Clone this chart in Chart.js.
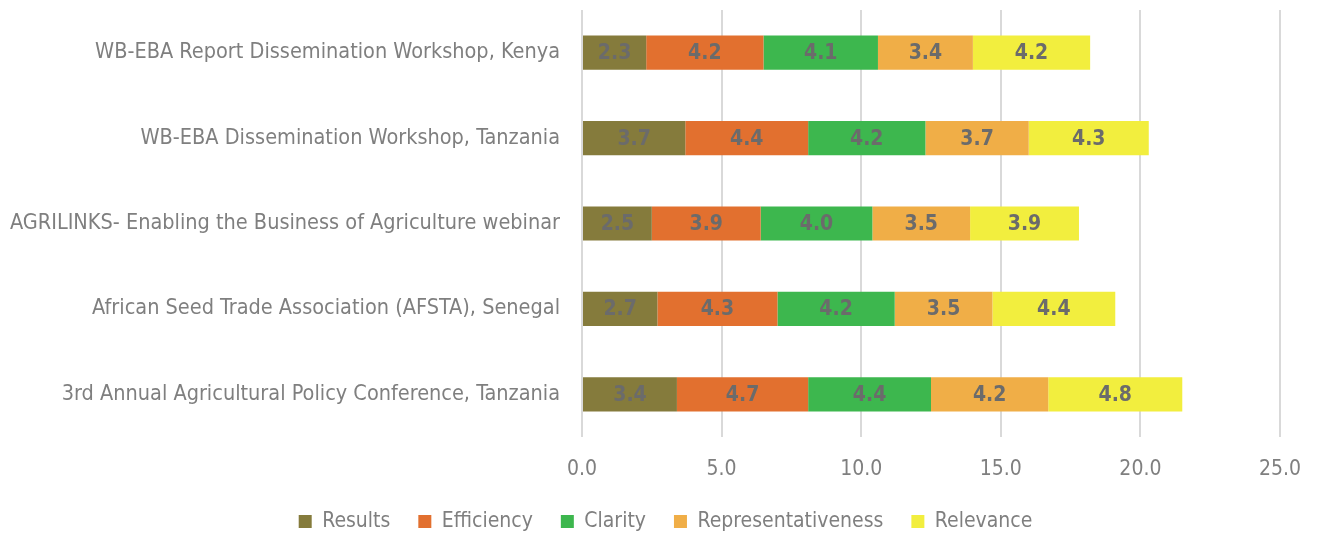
<!DOCTYPE html>
<html>
<head>
<meta charset="utf-8">
<script src="https://cdn.jsdelivr.net/npm/chart.js@4"></script>
<style>
  html, body { margin: 0; padding: 0; background: #fff; }
  #wrap { width: 1321px; height: 535px; }
</style>
</head>
<body>
<div id="wrap"><canvas id="chart" width="1321" height="535"></canvas></div>
<script>
const events = [
    "WB-EBA Report Dissemination Workshop, Kenya",
    "WB-EBA Dissemination Workshop, Tanzania",
    "AGRILINKS- Enabling the Business of Agriculture webinar",
    "African Seed Trade Association (AFSTA), Senegal",
    "3rd Annual Agricultural Policy Conference, Tanzania"
];
const results = [2.3, 3.7, 2.5, 2.7, 3.4];
const efficiency = [4.2, 4.4, 3.9, 4.3, 4.7];
const clarity = [4.1, 4.2, 4.0, 4.2, 4.4];
const representativeness = [3.4, 3.7, 3.5, 3.5, 4.2];
const relevance = [4.2, 4.3, 3.9, 4.4, 4.8];
const xTicks = [0, 5, 10, 15, 20, 25];

const FONT = "'Liberation Sans Narrow', 'DejaVu Sans Condensed', 'Liberation Sans', sans-serif";

// draws the value in the middle of each segment
const segmentLabels = {
    id: "segmentLabels",
    afterDatasetsDraw(chart) {
        const ctx = chart.ctx;
        ctx.save();
        ctx.font = "bold 21px " + FONT;
        ctx.fillStyle = "#6b6b6b";
        ctx.textAlign = "center";
        ctx.textBaseline = "middle";
        chart.data.datasets.forEach((ds, i) => {
            chart.getDatasetMeta(i).data.forEach((bar, j) => {
                const p = bar.getProps(["x", "base", "y"], true);
                ctx.fillText(ds.data[j].toFixed(1), (p.x + p.base) / 2, p.y + 1);
            });
        });
        ctx.restore();
    }
};

// keep the legend short so it sits at the very bottom
const legendHeight = {
    id: "legendHeight",
    beforeInit(chart) {
        const fit = chart.legend.fit;
        chart.legend.fit = function () {
            fit.call(this);
            this.height = 52;
        };
    }
};

function makeSet(label, data, color) {
    return {
        label: label,
        data: data,
        backgroundColor: color,
        borderWidth: 0,
        categoryPercentage: 1,
        barPercentage: 0.4
    };
}

const ctx = document.getElementById("chart").getContext("2d");
const chart = new Chart(ctx, {
    type: "bar",
    data: {
        labels: events,
        datasets: [
            makeSet("Results", results, "#857b3c"),
            makeSet("Efficiency", efficiency, "#e2702f"),
            makeSet("Clarity", clarity, "#3db74e"),
            makeSet("Representativeness", representativeness, "#f0ae47"),
            makeSet("Relevance", relevance, "#f2ee3e")
        ]
    },
    options: {
        indexAxis: "y",
        responsive: false,
        animation: false,
        layout: { padding: { top: 10, right: 0, bottom: 0, left: 10 } },
        scales: {
            x: {
                stacked: true,
                min: 0,
                max: 25,
                afterBuildTicks: s => { s.ticks = xTicks.map(v => ({ value: v })); },
                grid: { color: "#d9d9d9", lineWidth: 2, drawTicks: false },
                border: { display: false },
                ticks: {
                    padding: 20,
                    color: "#7f7f7f",
                    font: { family: FONT, size: 21 },
                    callback: v => Number(v).toFixed(1)
                },
                afterFit: s => { s.height = 46; s.paddingLeft = 0; s.paddingRight = 41; }
            },
            y: {
                stacked: true,
                grid: { display: false, drawTicks: false },
                border: { display: false },
                ticks: {
                    padding: 22,
                    color: "#7f7f7f",
                    font: { family: FONT, size: 21.5 }
                },
                afterFit: s => { s.width = 572; s.paddingTop = 0; s.paddingBottom = 0; }
            }
        },
        plugins: {
            legend: {
                position: "bottom",
                labels: {
                    boxWidth: 13,
                    boxHeight: 13,
                    padding: 28,
                    color: "#7f7f7f",
                    font: { family: FONT, size: 21 }
                }
            },
            tooltip: { enabled: false }
        }
    },
    plugins: [segmentLabels, legendHeight]
});
</script>
</body>
</html>
